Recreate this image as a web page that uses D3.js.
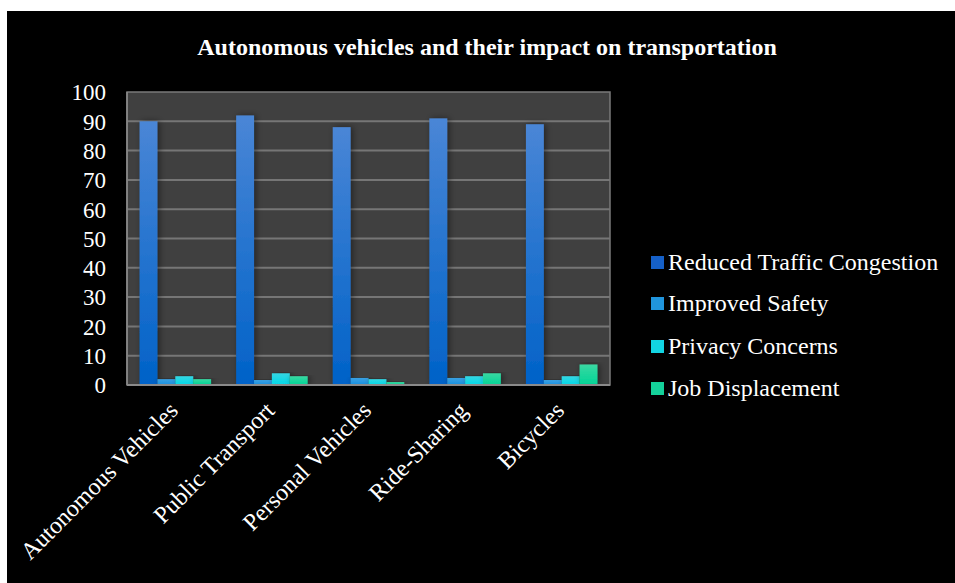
<!DOCTYPE html>
<html><head><meta charset="utf-8">
<script src="https://cdn.jsdelivr.net/npm/d3@7"></script>
<style>
html,body{margin:0;padding:0;background:#fff;}
svg{display:block;}
</style></head>
<body>
<svg id="chart" width="955" height="583"></svg>
<script>
const categories = ["Autonomous Vehicles","Public Transport","Personal Vehicles","Ride-Sharing","Bicycles"];
const seriesNames = ["Reduced Traffic Congestion","Improved Safety","Privacy Concerns","Job Displacement"];
const reducedTraffic = [90, 92, 88, 91, 89];
const improvedSafety = [2, 1.7, 2.4, 2.4, 1.7];
const privacyConcerns = [3, 4, 2, 3, 3];
const jobDisplacement = [2, 3, 1, 4, 7];
const yTicks = [0,10,20,30,40,50,60,70,80,90,100];
const title = "Autonomous vehicles and their impact on transportation";

(function(){
const seriesValues = [reducedTraffic, improvedSafety, privacyConcerns, jobDisplacement];
const colorsTop = ["#4a86d6","#3aa0e2","#35d6e2","#3ad8a2"];
const colorsBot = ["#0062c8","#1890e0","#00d8e8","#00d496"];
const legendColors = ["#1560c8","#2095dd","#12d4e2","#14d19a"];

const svg = d3.select("#chart");
const font = "'Liberation Serif','Times New Roman',serif";

svg.append("rect").attr("x",7).attr("y",11).attr("width",948).attr("height",572).attr("fill","#000");

const defs = svg.append("defs");
seriesNames.forEach((s,i)=>{
  const g = defs.append("linearGradient").attr("id","g"+i).attr("x1",0).attr("y1",0).attr("x2",0).attr("y2",1);
  g.append("stop").attr("offset","0%").attr("stop-color",colorsTop[i]);
  g.append("stop").attr("offset","100%").attr("stop-color",colorsBot[i]);
});
const f = defs.append("filter").attr("id","shadow").attr("x","-50%").attr("y","-10%").attr("width","200%").attr("height","120%");
f.append("feDropShadow").attr("dx",2).attr("dy",0).attr("stdDeviation",3).attr("flood-color","#000").attr("flood-opacity",0.45);

const pL=127, pR=610, pT=92, pB=385;
const x0 = d3.scaleBand().domain(categories).range([pL,pR]).paddingInner(0.26).paddingOuter(0.13);
const x1 = d3.scaleBand().domain(seriesNames).range([0,x0.bandwidth()]);
const y = d3.scaleLinear().domain([0,100]).range([pB,pT]);

svg.append("rect").attr("x",pL).attr("y",pT).attr("width",pR-pL).attr("height",pB-pT)
  .attr("fill","#404040").attr("stroke","#7a7a7a").attr("stroke-width",1.5);

svg.append("g").selectAll("line").data(yTicks.filter(t=>t>0 && t<100)).join("line")
  .attr("x1",pL).attr("x2",pR).attr("y1",d=>y(d)).attr("y2",d=>y(d))
  .attr("stroke","#767676").attr("stroke-width",2);

const groups = svg.append("g").selectAll("g").data(categories).join("g")
  .attr("transform",d=>`translate(${x0(d)},0)`);
groups.selectAll("rect").data((d,ci)=>seriesNames.map((s,si)=>({s,si,v:seriesValues[si][ci]}))).join("rect")
  .attr("x",d=>x1(d.s)).attr("width",x1.bandwidth())
  .attr("y",d=>y(d.v)).attr("height",d=>y(0)-y(d.v))
  .attr("fill",d=>`url(#g${d.si})`).attr("filter","url(#shadow)");

svg.append("line").attr("x1",pL).attr("x2",pR).attr("y1",pB).attr("y2",pB).attr("stroke","#8a8a8a").attr("stroke-width",2);
svg.append("line").attr("x1",pL).attr("x2",pL).attr("y1",pT).attr("y2",pB).attr("stroke","#8a8a8a").attr("stroke-width",1.5);

const yAxis = d3.axisLeft(y).tickValues(yTicks).tickSize(0).tickPadding(0);
const ya = svg.append("g").attr("transform",`translate(106,0)`).call(yAxis);
ya.select(".domain").remove();
ya.selectAll("text").attr("fill","#fff").attr("font-family",font).attr("font-size","23px").attr("dy","0.34em");

const xAxis = d3.axisBottom(x0).tickSize(0).tickPadding(0);
const xa = svg.append("g").attr("transform",`translate(0,${pB})`).call(xAxis);
xa.select(".domain").remove();
xa.selectAll("text").attr("fill","#fff").attr("font-family",font).attr("font-size","24px")
  .attr("text-anchor","end").attr("dy",0).attr("y",0)
  .attr("transform","translate(4,27) rotate(-45)");

svg.append("text").attr("x",487).attr("y",55).attr("text-anchor","middle")
  .attr("fill","#fff").attr("font-family",font).attr("font-weight","bold").attr("font-size","24px").text(title);

const legY = [262,303,346,388];
const leg = svg.append("g").selectAll("g").data(seriesNames).join("g")
  .attr("transform",(d,i)=>`translate(651,${legY[i]})`);
leg.append("rect").attr("x",0).attr("y",-6).attr("width",13).attr("height",13).attr("fill",(d,i)=>legendColors[i]);
leg.append("text").attr("x",17).attr("y",0).attr("dy","0.35em").attr("fill","#fff")
  .attr("font-family",font).attr("font-size","24px").text(d=>d);
})();
</script>
</body></html>
